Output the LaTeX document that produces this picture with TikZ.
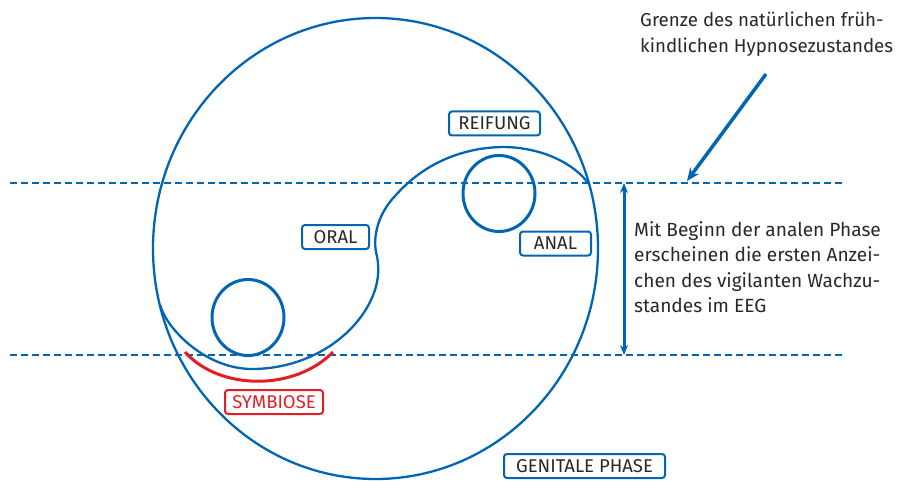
\documentclass[tikz,border=0pt]{standalone}
\usepackage{fontspec}
\setmainfont{Fira Sans}
\usetikzlibrary{arrows.meta}
\definecolor{cblue}{RGB}{0,102,179}
\definecolor{cred}{RGB}{227,30,36}
\definecolor{ctext}{RGB}{40,40,40}
\tikzset{
  lbl/.style={draw=cblue, line width=2pt, rounded corners=3pt, text=ctext,
    font=\fontsize{18.5}{22}\selectfont, inner xsep=3pt, inner ysep=0pt, minimum height=24pt},
  redlbl/.style={lbl, draw=cred, text=cred},
  blob/.style={draw=cblue, line width=2.3pt},
  ring/.style={draw=cblue, line width=3pt},
  dashline/.style={draw=cblue, line width=2pt, dash pattern=on 6.5pt off 4.5pt},
  txt/.style={font=\fontsize{19.1}{25.5}\selectfont, text=ctext, align=left, inner sep=0pt},
  toptxt/.style={txt, font=\fontsize{18.7}{25.5}\selectfont},
  vtip/.tip={Stealth[length=10pt,width=8pt]}
}
\begin{document}
\begin{tikzpicture}[x=1pt,y=-1pt]
\useasboundingbox (0,0) rectangle (901,481);
% big circle
\draw[blob] (375.5,248.5) ellipse [x radius=222.5pt, y radius=230.5pt];
% dashed lines
\coordinate (d1l) at (10,183); \coordinate (d1r) at (842,183);
\coordinate (d2l) at (10,355); \coordinate (d2r) at (842,355);
\draw[dashline] (d1l) -- (d1r);
\draw[dashline] (d2l) -- (d2r);
% S curve
\draw[blob] (160.2,305) .. controls (166,328) and (205,369) .. (252,369)
  .. controls (305,369) and (352,340) .. (371,300)
  .. controls (379,283) and (380,267) .. (376,252)
  .. controls (373,236) and (378,214) .. (395,196)
  .. controls (423,164) and (462,147) .. (505,147)
  .. controls (545,148) and (575,165) .. (588,183);
% small circles
\draw[ring] (248,317.5) ellipse [x radius=36pt, y radius=38pt];
\draw[ring] (499,193.5) ellipse [x radius=36pt, y radius=38pt];
% red arc
\draw[draw=cred, line width=3pt] (185,352) .. controls (220,391) and (295,391) .. (333,352);
% labels
\node[lbl, minimum width=91pt] (reifung) at (494.5,123.5) {REIFUNG};
\node[lbl, minimum width=67pt] (oral) at (335.5,237) {ORAL};
\node[lbl, minimum width=71pt] (anal) at (555.5,243.5) {ANAL};
\node[redlbl, minimum width=98pt] (symbiose) at (274,402) {SYMBIOSE};
\node[lbl, minimum width=161pt] (genitale) at (584.5,466) {GENITALE PHASE};
% texts
\node[toptxt, anchor=north west] (grenze) at (640,12) {Grenze des natürlichen früh-\\kindlichen Hypnosezustandes};
\node[txt, anchor=north west] (beginn) at (634,221) {Mit Beginn der analen Phase\\erscheinen die ersten Anzei-\\chen des vigilanten Wachzu-\\standes im EEG};
% arrows
\coordinate (ds) at (766,74); \coordinate (de) at (687,181);
\draw[cblue, line width=3.5pt, -{Stealth[length=13pt,width=11pt]}] (ds) -- (de);
\coordinate (va) at (624,183); \coordinate (vb) at (624,355);
\draw[cblue, line width=3pt, vtip-vtip] (va) -- (vb);
\end{tikzpicture}
\end{document}
